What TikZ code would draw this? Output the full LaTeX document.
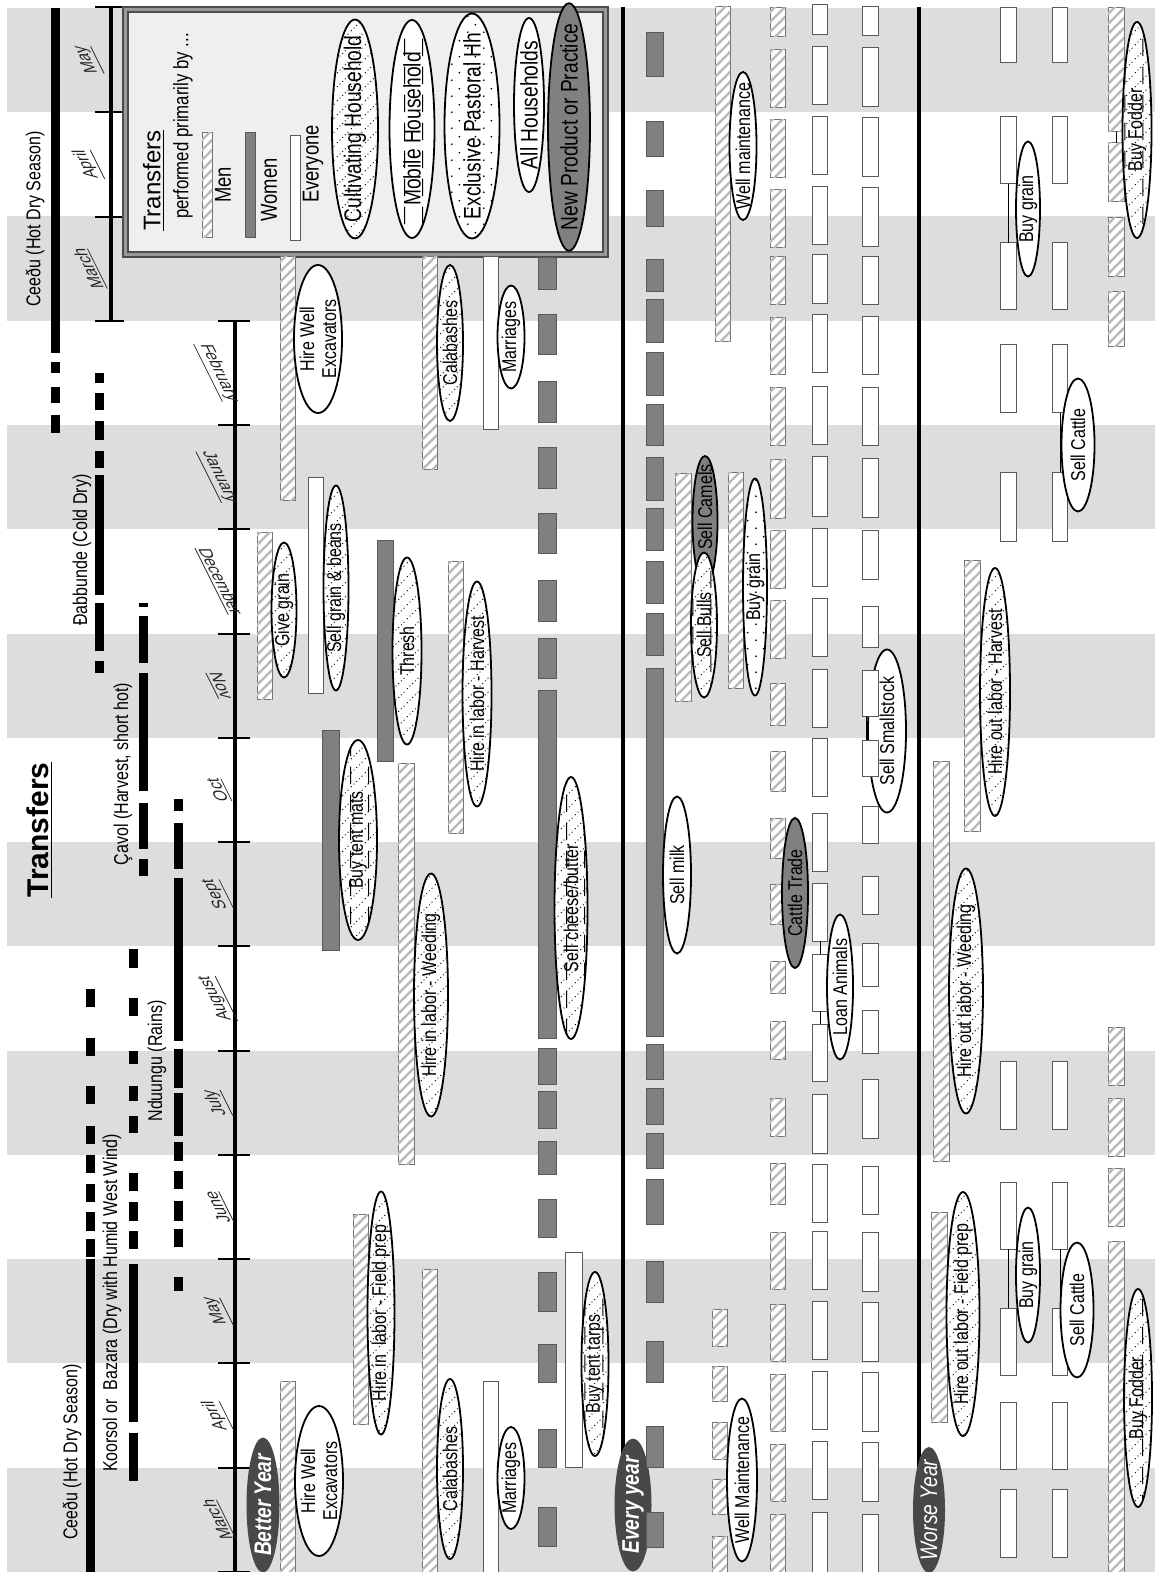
\documentclass[tikz,border=0pt]{standalone}
\usepackage{fontspec}
\setmainfont[FakeStretch=0.8]{Liberation Sans}
\newfontfamily\widefont{Liberation Sans}
\usetikzlibrary{shapes.geometric,patterns}
\definecolor{band1}{RGB}{221,221,221}
\definecolor{women1}{RGB}{128,128,128}
\definecolor{hatch1}{RGB}{185,185,185}
\definecolor{year1}{RGB}{72,72,72}
\definecolor{box1}{RGB}{239,239,239}

\pgfdeclarepatternformonly{menhatch}{\pgfqpoint{-1pt}{-1pt}}{\pgfqpoint{6pt}{6pt}}{\pgfqpoint{5pt}{5pt}}{%
  \pgfsetlinewidth{1.1pt}%
  \pgfpathmoveto{\pgfqpoint{-0.5pt}{-0.5pt}}%
  \pgfpathlineto{\pgfqpoint{5.5pt}{5.5pt}}%
  \pgfusepath{stroke}}
\pgfdeclarepatternformonly{cultdots}{\pgfqpoint{0pt}{0pt}}{\pgfqpoint{7pt}{7pt}}{\pgfqpoint{7pt}{7pt}}{%
  \pgfpathcircle{\pgfqpoint{0.7pt}{0.7pt}}{0.35pt}%
  \pgfpathcircle{\pgfqpoint{2.1pt}{2.1pt}}{0.35pt}%
  \pgfpathcircle{\pgfqpoint{3.5pt}{3.5pt}}{0.35pt}%
  \pgfpathcircle{\pgfqpoint{4.9pt}{4.9pt}}{0.35pt}%
  \pgfpathcircle{\pgfqpoint{6.3pt}{6.3pt}}{0.35pt}%
  \pgfusepath{fill}}
\pgfdeclarepatternformonly{mobdash}{\pgfqpoint{0pt}{0pt}}{\pgfqpoint{9pt}{14pt}}{\pgfqpoint{9pt}{14pt}}{%
  \pgfsetlinewidth{0.5pt}%
  \pgfpathmoveto{\pgfqpoint{4.5pt}{2pt}}%
  \pgfpathlineto{\pgfqpoint{4.5pt}{11pt}}%
  \pgfusepath{stroke}}
\pgfdeclarepatternformonly{pastdots}{\pgfqpoint{0pt}{0pt}}{\pgfqpoint{8pt}{8pt}}{\pgfqpoint{8pt}{8pt}}{%
  \pgfpathcircle{\pgfqpoint{2pt}{2pt}}{0.5pt}%
  \pgfpathcircle{\pgfqpoint{6pt}{6pt}}{0.5pt}%
  \pgfusepath{fill}}

\begin{document}
\begin{tikzpicture}[x=0.5pt, y=-0.5pt,
  every node/.style={font=\fontsize{10}{11}\selectfont},
  menbar/.style={draw=black!55, line width=0.5pt, fill=white, postaction={pattern=menhatch, pattern color=hatch1}},
  womenbar/.style={draw=black!65, line width=0.5pt, fill=women1},
  allbar/.style={draw=black!65, line width=0.5pt, fill=white},
  season/.style={line width=4.5pt},
  seasontext/.style={rotate=90},
  axis/.style={line width=1.6pt},
  tick/.style={line width=1pt},
  sepline/.style={line width=1.6pt},
  monthup/.style={rotate=90, yslant=0.5, text=black!85, inner sep=1pt, font=\fontsize{9}{10}\selectfont},
  monthdown/.style={rotate=-90, yslant=0.5, text=black!85, inner sep=1pt, font=\fontsize{9}{10}\selectfont},
  oval/.style={ellipse, draw, line width=0.9pt, fill=white, inner sep=-8pt, outer sep=0pt, rotate=90, align=center},
  sz/.style 2 args={minimum width={#2*0.5pt}, minimum height={#1*0.5pt}},
  cult/.style={postaction={pattern=cultdots}},
  mob/.style={postaction={pattern=mobdash}},
  past/.style={postaction={pattern=pastdots}},
  newp/.style={fill=women1},
  yearoval/.style={ellipse, fill=year1, text=white, inner sep=-8pt, rotate=90, font=\fontsize{12}{13}\selectfont\bfseries\itshape},
  legtext/.style={rotate=90, font=\fontsize{11.5}{12}\selectfont}]

\useasboundingbox (0,0) rectangle (1155,1572);

% MONTH BANDS
\foreach \m in {0,2,...,14}
  \fill[band1] (7,{1572-(\m+1)*104.27}) rectangle (1155,{1572-\m*104.27});

% TITLE
\node[rotate=90, font={\widefont\bfseries\fontsize{15}{16}\selectfont}] (title) at (40,830) {\underline{Transfers}};

% SEASONS
\node[seasontext] (ceedutop) at (35,219) {Ceeðu (Hot Dry Season)};
\draw[season] (55,8) -- (55,353);
\foreach \a/\b in {362/373,387/403,415/433} \draw[season] (55,\a) -- (55,\b);

\node[seasontext] (dabbunde) at (82,550) {Ðabbunde (Cold Dry)};
\foreach \a/\b in {373/383,393/410,421/440,451/468,475/595,603/651,661/673} \draw[season] (99,\a) -- (99,\b);

\node[seasontext] (cavol) at (123,774) {Çavol (Harvest, short hot)};
\foreach \a/\b in {603/607,616/663,673/791,803/849,859/876} \draw[season] (143,\a) -- (143,\b);

\node[seasontext] (nduungu) at (157,1061) {Nduungu (Rains)};
\foreach \a/\b in {799/811,823/869,878/1041,1049/1088,1093/1136,1142/1161,1171/1189,1201/1221,1229/1247,1277/1291} \draw[season] (178,\a) -- (178,\b);

\node[seasontext] (koorsol) at (112,1303) {Koorsol or\ \ Bazara (Dry with Humid West Wind)};
\foreach \a/\b in {949/968,998/1016,1051/1064,1086/1101,1116/1133,1173/1191,1202/1221,1231/1249,1264/1422,1433/1481} \draw[season] (133,\a) -- (133,\b);

\node[seasontext] (ceedubot) at (72,1452) {Ceeðu (Hot Dry Season)};
\foreach \a/\b in {989/1007,1038/1056,1086/1104,1126/1144,1155/1173,1184/1202,1212/1231,1239/1257,1259/1572} \draw[season] (90,\a) -- (90,\b);

% MONTH AXIS
\coordinate (axtop) at (235,321);
\coordinate (axbot) at (235,1572);
\draw[axis] (axtop) -- (axbot);
\foreach \k in {0,...,12} \draw[tick] (218,{1572-\k*104.27}) -- (250,{1572-\k*104.27});
\foreach \mon [count=\k from 0] in {March,April,May,June,July,August,Sept,Oct}
  \node[monthup, anchor=south] (mon\k) at (230,{1572-(\k+0.5)*104.27}) {\underline{\mon}};
\foreach \mon [count=\k from 8] in {Nov,December,January,February}
  \node[monthdown, anchor=north] (mon\k) at (230,{1572-(\k+0.5)*104.27}) {\underline{\mon}};

% next year axis
\coordinate (axtopb) at (111,7);
\coordinate (axbotb) at (111,321);
\draw[axis] (axtopb) -- (axbotb);
\foreach \yy in {7,112,217,321} \draw[tick] (95,\yy) -- (124,\yy);
\foreach \mon [count=\k from 12] in {March,April,May}
  \node[monthup, anchor=south] (mon\k) at (101,{1572-(\k+0.5)*104.27}) {\underline{\mon}};

% LEGEND
\draw[draw=black!70, fill=black!40, line width=0.6pt] (123,7) rectangle (608,257);
\draw[draw=black!70, fill=box1, line width=0.6pt] (128,12) rectangle (603,252);
\node[rotate=90, anchor=north west, font={\widefont\fontsize{12}{13}\selectfont}] (legtitle) at (136,238) {\underline{Transfers}};
\node[rotate=90, anchor=north west, font=\fontsize{10.5}{11}\selectfont] (legsub) at (166,226) {performed primarily by ...};
\draw[menbar] (202,133) rectangle (212,238);
\node[legtext] (legmen) at (223,185) {Men};
\draw[womenbar] (245,133) rectangle (255,238);
\node[legtext] (legwomen) at (269,190) {Women};
\draw[allbar] (290,136) rectangle (300,241);
\node[legtext] (legall) at (313,164) {Everyone};
\node[oval, cult, sz={46}{218}, font=\fontsize{12}{13}\selectfont] (legcult) at (355,129) {Cultivating Household};
\node[oval, mob, sz={45}{218}, font=\fontsize{12}{13}\selectfont] (legmob) at (412,129) {Mobile Household};
\node[oval, past, sz={55}{225}, font=\fontsize{12}{13}\selectfont] (legpast) at (472,126) {Exclusive Pastoral Hh};
\node[oval, sz={30}{174}, font=\fontsize{12}{13}\selectfont] (legallhh) at (529,105) {All Households};
\node[oval, newp, sz={42}{223}, font=\fontsize{12}{13}\selectfont] (legnew) at (569,127) {New Product or Practice};

% BETTER YEAR
\node[yearoval, sz={33}{135}] (better) at (263,1505) {Better Year};
\draw[menbar] (280,257) rectangle (295,500);
\draw[menbar] (280,1381) rectangle (295,1572);
\draw[menbar] (257,532) rectangle (272,699);
\draw[allbar] (308,477) rectangle (323,693);
\draw[menbar] (353,1214) rectangle (368,1424);
\draw[womenbar] (322,730) rectangle (339,950);
\draw[womenbar] (377,540) rectangle (393,761);
\draw[menbar] (398,763) rectangle (414,1164);
\draw[menbar] (448,561) rectangle (463,833);
\draw[menbar] (422,257) rectangle (437,469);
\draw[menbar] (422,1269) rectangle (437,1572);
\draw[allbar] (483,257) rectangle (498,430);
\draw[allbar] (483,1381) rectangle (498,1572);
\foreach \a/\b in {258/290,315/355,382/423,448/488,513/553,580/621,638/678,690/1038,1048/1084,1091/1128,1141/1174,1199/1237,1272/1311,1344/1382,1429/1467,1507/1546}
  \draw[womenbar] (538,\a) rectangle (556,\b);
\draw[allbar] (565,1252) rectangle (582,1467);

\node[oval, sz={48}{148}] (wellexctop) at (318,339) {Hire Well\\Excavators};
\node[oval, sz={48}{150}] (wellexcbot) at (319,1481) {Hire Well\\Excavators};
\node[oval, cult, sz={25}{135}] (givegrain) at (284,610) {Give grain};
\node[oval, cult, sz={25}{205}] (sellgrain) at (336,588) {Sell grain \& beans};
\node[oval, cult, sz={27}{243}] (fieldprep) at (381,1313) {Hire in\ \ labor - Field prep};
\node[oval, cult, mob, sz={38}{200}] (tentmats) at (358,840) {Buy tent mats};
\node[oval, cult, sz={29}{187}] (thresh) at (407,651) {Thresh};
\node[oval, cult, sz={34}{243}] (weeding) at (431,995) {Hire in labor - Weeding};
\node[oval, cult, sz={29}{225}] (harvest) at (477,694) {Hire in labor - Harvest};
\node[oval, cult, sz={26}{156}] (calabtop) at (450,343) {Calabashes};
\node[oval, cult, sz={26}{180}] (calabbot) at (450,1469) {Calabashes};
\node[oval, sz={27}{103}] (marrtop) at (511,337) {Marriages};
\node[oval, sz={27}{102}] (marrbot) at (511,1478) {Marriages};
\node[oval, cult, mob, sz={33}{262}] (cheese) at (571,908) {Sell cheese/butter};
\node[oval, cult, mob, sz={27}{184}] (tarps) at (595,1364) {Buy tent tarps};

% EVERY YEAR
\coordinate (evtop) at (623,7);
\coordinate (evbot) at (623,1470);
\draw[sepline] (evtop) -- (evbot);
\node[yearoval, sz={37}{133}] (every) at (633,1505) {Every year};

\node[oval, sz={38}{163}] (smallstock) at (887,731) {Sell Smallstock};

\foreach \a/\b in {33/77,122/157,191/227,260/292,300/343,353/396,405/446,458/500,508/550,561/603,613/655,668/1036,1044/1079,1088/1124,1133/1168,1179/1224,1261/1302,1341/1382,1426/1467,1512/1547}
  \draw[womenbar] (646,\a) rectangle (663,\b);
\draw[menbar] (715,7) rectangle (730,342);
\foreach \a/\b in {1309/1346,1366/1401,1422/1459,1479/1514,1536/1572}
  \draw[menbar] (712,\a) rectangle (727,\b);
\draw[menbar] (675,473) rectangle (691,701);
\draw[menbar] (728,472) rectangle (743,688);
\foreach \a/\b in {8/37,50/108,120/178,190/248,257/305,318/375,388/446,460/518,530/588,600/658,683/725,751/791,818/858,884/924,961/993,1021/1059,1098/1136,1163/1204,1232/1289,1304/1361,1374/1431,1444/1501,1514/1572}
  \draw[menbar] (770,\a) rectangle (785,\b);
\foreach \a/\b in {5/35,47/105,117/175,187/245,255/304,315/373,387/445,457/516,528/586,598/656,669/727,738/796,813/871,883/941,954/1011,1024/1081,1094/1153,1164/1222,1231/1289,1301/1359,1371/1429,1441/1499,1512/1572}
  \draw[allbar] (812,\a) rectangle (827,\b);
\foreach \a/\b in {7/36,48/107,118/177,188/247,257/305,317/375,388/446,459/517,530/579,606/647,670/716,740/776,806/843,876/914,943/986,1010/1053,1079/1138,1166/1214,1232/1291,1302/1361,1372/1431,1442/1501,1514/1572}
  \draw[allbar] (862,\a) rectangle (878,\b);

% ties between bars
\coordinate (la1) at (820,941); \coordinate (la2) at (820,954);
\coordinate (la3) at (820,1011); \coordinate (la4) at (820,1024);
\coordinate (ss1) at (866,716); \coordinate (ss2) at (866,740);
\draw (la1) -- (la2);
\draw (la3) -- (la4);
\draw (ss1) -- (ss2);

\node[oval, sz={28}{157}] (sellmilk) at (677,875) {Sell milk};
\node[oval, sz={27}{148}] (welltop) at (743,146) {Well maintenance};
\node[oval, sz={30}{163}] (wellbot) at (742,1480) {Well Maintenance};
\node[oval, newp, sz={25}{130}] (camels) at (705,521) {\hspace*{14pt}Sell Camels};
\node[oval, cult, mob, sz={26}{145}] (bulls) at (704,625) {Sell Bulls};
\node[oval, past, sz={24}{217}] (buygrainev) at (755,587) {Buy grain};
\node[oval, newp, sz={26}{150}] (cattletrade) at (795,893) {Cattle Trade};
\node[oval, sz={26}{145}] (loan) at (840,987) {Loan Animals};

% WORSE YEAR
\coordinate (wotop) at (919,7);
\coordinate (wobot) at (919,1480);
\draw[sepline] (wotop) -- (wobot);
\node[yearoval, font=\fontsize{12}{13}\selectfont\itshape, sz={32}{126}] (worse) at (929,1510) {Worse Year};

\draw[menbar] (964,560) rectangle (980,831);
\draw[menbar] (933,761) rectangle (949,1161);
\draw[menbar] (931,1212) rectangle (947,1422);
\foreach \a/\b in {8/63,117/184,243/310,345/413,472/541,1061/1129,1182/1249,1308/1375,1402/1469,1489/1557}{
  \draw[allbar] (1000,\a) rectangle (1016,\b);
  \draw[allbar] (1052,\a) rectangle (1067,\b);
}
\foreach \a/\b in {8/132,143/202,218/277,292/347,1027/1085,1098/1156,1168/1226,1241/1572}
  \draw[menbar] (1108,\a) rectangle (1124,\b);

\coordinate (bg1) at (1008,184); \coordinate (bg2) at (1008,243);
\coordinate (bg3) at (1008,1249); \coordinate (bg4) at (1008,1308);
\coordinate (sc1) at (1060,413); \coordinate (sc2) at (1060,472);
\coordinate (sc3) at (1060,1249); \coordinate (sc4) at (1060,1307);
\coordinate (bf1) at (1116,132); \coordinate (bf2) at (1116,143);
\draw (bg1) -- (bg2);
\draw (bg3) -- (bg4);
\draw (sc1) -- (sc2);
\draw (sc3) -- (sc4);
\draw (bf1) -- (bf2);

\node[oval, cult, sz={30}{248}] (outharvest) at (995,692) {Hire out labor - Harvest};
\node[oval, cult, sz={34}{245}] (outweeding) at (966,991) {Hire out labor - Weeding};
\node[oval, cult, sz={33}{244}] (outfield) at (963,1314) {Hire out labor - Field prep};
\node[oval, sz={24}{135}] (buygraintop) at (1028,209) {Buy grain};
\node[oval, sz={24}{135}] (buygrainbot) at (1028,1275) {Buy grain};
\node[oval, sz={33}{133}] (cattletop) at (1078,445) {Sell Cattle};
\node[oval, sz={33}{135}] (cattlebot) at (1077,1310) {Sell Cattle};
\node[oval, cult, mob, sz={29}{216}] (foddertop) at (1137,130) {Buy Fodder};
\node[oval, cult, mob, sz={28}{218}] (fodderbot) at (1138,1398) {Buy Fodder};

\end{tikzpicture}
\end{document}
